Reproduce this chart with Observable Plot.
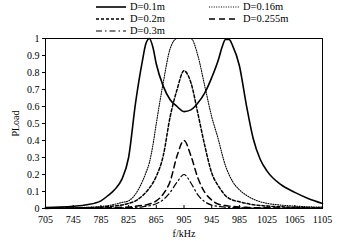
<!DOCTYPE html>
<html><head><meta charset="utf-8">
<script src="https://cdn.jsdelivr.net/npm/d3@7"></script>
<script src="https://cdn.jsdelivr.net/npm/@observablehq/plot@0.6"></script>
<style>
body{margin:0;background:#fff;}
#wrap{position:relative;width:339px;height:241px;font-family:"Liberation Serif","Times New Roman",serif;}
#legend{position:absolute;left:0;top:0;width:339px;height:38px;}
.item{position:absolute;display:flex;align-items:center;font-size:10.5px;line-height:10px;color:#000;}
.item svg{margin-right:4px;}
</style>
</head><body>
<div id="wrap"><div id="legend"></div></div>
<script>
const freq  = [705,725,745,765,785,795,805,815,825,835,845,850,855,860,865,875,885,895,905,915,925,935,945,955,960,965,970,975,985,995,1005,1015,1025,1045,1065,1085,1105];
const d010  = [0.005,0.008,0.013,0.022,0.045,0.075,0.112,0.17,0.30,0.62,0.87,0.97,1.0,0.95,0.85,0.72,0.64,0.60,0.57,0.58,0.62,0.68,0.77,0.88,0.95,0.995,0.995,0.96,0.84,0.61,0.41,0.29,0.22,0.14,0.095,0.058,0.03];
const d016  = [0.002,0.003,0.004,0.007,0.012,0.017,0.025,0.035,0.045,0.085,0.16,0.21,0.27,0.37,0.50,0.74,0.94,1.0,1.0,1.0,0.90,0.72,0.54,0.40,0.32,0.25,0.20,0.16,0.11,0.078,0.055,0.04,0.03,0.02,0.014,0.01,0.008];
const d020  = [0.001,0.002,0.003,0.005,0.008,0.011,0.015,0.02,0.03,0.045,0.075,0.095,0.12,0.15,0.19,0.31,0.54,0.70,0.81,0.74,0.56,0.37,0.21,0.13,0.10,0.075,0.06,0.05,0.04,0.03,0.022,0.018,0.014,0.01,0.007,0.005,0.004];
const d0255 = [0.0005,0.001,0.001,0.002,0.003,0.004,0.005,0.007,0.009,0.013,0.018,0.021,0.026,0.034,0.045,0.085,0.16,0.31,0.40,0.31,0.18,0.095,0.05,0.025,0.02,0.017,0.014,0.012,0.009,0.007,0.005,0.004,0.004,0.003,0.003,0.002,0.002];
const d030  = [0.0003,0.0005,0.0008,0.001,0.002,0.002,0.003,0.004,0.005,0.007,0.01,0.013,0.016,0.021,0.028,0.052,0.095,0.155,0.20,0.15,0.08,0.04,0.02,0.012,0.01,0.008,0.007,0.006,0.005,0.004,0.003,0.003,0.002,0.002,0.002,0.001,0.001];
const seriesNames = ["D=0.1m","D=0.16m","D=0.2m","D=0.255m","D=0.3m"];
const seriesValues = [d010,d016,d020,d0255,d030];
const xTicks = [705,745,785,825,865,905,945,985,1025,1065,1105];
const yTicks = [0,0.1,0.2,0.3,0.4,0.5,0.6,0.7,0.8,0.9,1];

const styles = [
  {dash:null, w:1.6},
  {dash:"1,1.4", w:1.1},
  {dash:"3,2", w:1.5},
  {dash:"6,4", w:1.5},
  {dash:"6,3,1.5,3", w:1.2}
];

const rows = [];
seriesNames.forEach((name,i)=>{
  seriesValues[i].forEach((v,j)=>rows.push({series:name, f:freq[j], p:v}));
});

const marks = [];
seriesNames.forEach((name,i)=>{
  marks.push(Plot.line(rows.filter(r=>r.series===name), {
    x:"f", y:"p", stroke:"black", strokeWidth:styles[i].w,
    strokeDasharray:styles[i].dash, curve:"monotone-x"
  }));
});

const chart = Plot.plot({
  width:339, height:241,
  marginTop:38, marginBottom:33, marginLeft:45, marginRight:17,
  style:{fontFamily:"Liberation Serif, Times New Roman, serif", fontSize:"10px", color:"black", background:"white"},
  x:{domain:[705,1105]},
  y:{domain:[0,1]},
  marks:[
    ...marks,
    Plot.frame({stroke:"black", strokeWidth:1}),
    Plot.axisY({ticks:yTicks, tickSize:3, tickPadding:3, tickFormat:d=>String(+d.toFixed(1)), label:"PLoad", labelAnchor:"center", labelArrow:"none", labelOffset:34}),
    Plot.axisX({ticks:xTicks, tickSize:0, tickPadding:7, tickFormat:d=>String(d), label:"f/kHz", labelAnchor:"center", labelArrow:"none", labelOffset:28}),
    Plot.tickX(xTicks, {x:d=>d, stroke:"black", insetTop:167})
  ]
});
document.getElementById("wrap").appendChild(chart);

const legend = document.getElementById("legend");
const pos = [[96,7],[209,7],[96,19],[209,19],[96,31]];
seriesNames.forEach((name,i)=>{
  const it = document.createElement("div");
  it.className="item";
  it.style.left = pos[i][0]+"px";
  it.style.top = (pos[i][1]-5)+"px";
  const s = styles[i];
  it.innerHTML = `<svg width="30" height="10"><line x1="0" y1="5" x2="30" y2="5" stroke="black" stroke-width="${s.w}" ${s.dash?`stroke-dasharray="${s.dash}"`:""}/></svg><span>${name}</span>`;
  legend.appendChild(it);
});
</script>
</body></html>
